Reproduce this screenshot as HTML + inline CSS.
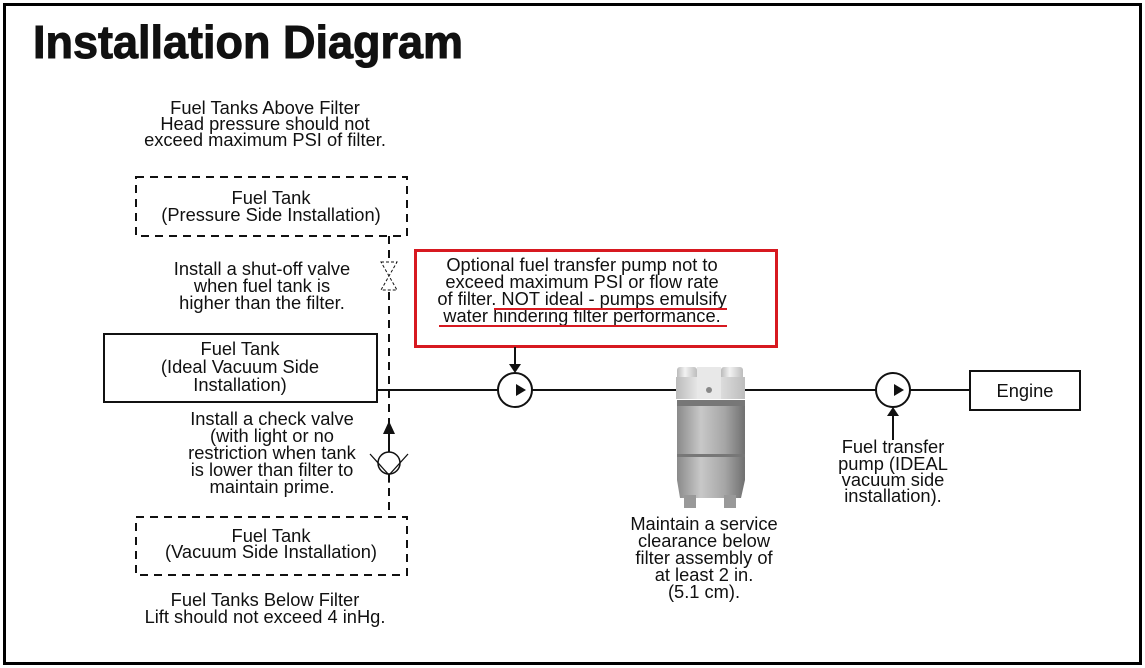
<!DOCTYPE html>
<html><head><meta charset="utf-8"><style>
html,body{margin:0;padding:0;background:#fff;}
svg{display:block;}
text{font-family:"Liberation Sans",Arial,sans-serif;font-size:18.3px;fill:#111;}
.m{text-anchor:middle;}
</style></head><body>
<svg width="1145" height="668" viewBox="0 0 1145 668" xmlns="http://www.w3.org/2000/svg">
<defs>
<linearGradient id="g" x1="0" x2="1">
<stop offset="0" stop-color="#8a8a8a"/><stop offset="0.35" stop-color="#c8c8c8"/><stop offset="0.7" stop-color="#a6a6a6"/><stop offset="1" stop-color="#707070"/>
</linearGradient>
<linearGradient id="g2" x1="0" x2="1">
<stop offset="0" stop-color="#bbb"/><stop offset="0.4" stop-color="#f2f2f2"/><stop offset="1" stop-color="#bdbdbd"/>
</linearGradient>
</defs>
<rect x="4.5" y="4.5" width="1136" height="659" fill="none" stroke="#000" stroke-width="3"/>
<text x="33" y="58" style="font-size:46px;font-weight:bold;stroke:#111;stroke-width:1" textLength="430" lengthAdjust="spacingAndGlyphs">Installation Diagram</text>

<text class="m" x="265" y="114">Fuel Tanks Above Filter</text>
<text class="m" x="265" y="130">Head pressure should not</text>
<text class="m" x="265" y="146">exceed maximum PSI of  filter.</text>

<!-- top dashed tank -->
<rect x="136" y="177" width="271" height="59" fill="none" stroke="#111" stroke-width="2" stroke-dasharray="8,6"/>
<text class="m" x="271" y="204">Fuel Tank</text>
<text class="m" x="271" y="221">(Pressure Side Installation)</text>

<!-- dashed vertical -->
<line x1="389" y1="236" x2="389" y2="516" stroke="#111" stroke-width="2" stroke-dasharray="8,6"/>
<!-- shut-off valve -->
<path d="M381 262 L397 262 L381 290 L397 290 Z" fill="#fff" stroke="#111" stroke-width="1" stroke-dasharray="3,2"/>

<text class="m" x="262" y="275">Install a shut-off valve</text>
<text class="m" x="262" y="292">when fuel tank is</text>
<text class="m" x="262" y="309">higher than the filter.</text>

<!-- ideal tank -->
<rect x="104" y="334" width="273" height="68" fill="#fff" stroke="#111" stroke-width="2"/>
<text class="m" x="240" y="355">Fuel Tank</text>
<text class="m" x="240" y="373">(Ideal Vacuum Side</text>
<text class="m" x="240" y="391">Installation)</text>

<!-- main line -->
<line x1="377" y1="390" x2="970" y2="390" stroke="#111" stroke-width="2"/>

<!-- check valve -->
<line x1="389" y1="420" x2="389" y2="451" stroke="#111" stroke-width="2"/>
<path d="M383 434 L389 421 L395 434 Z" fill="#111"/>
<circle cx="389" cy="463" r="11" fill="#fff" stroke="#111" stroke-width="1.5"/>
<path d="M370 454 L389 475 L408 454 M389 475 L389 483" fill="none" stroke="#111" stroke-width="1.3"/>

<text class="m" x="272" y="425">Install a check valve</text>
<text class="m" x="272" y="442">(with light or no</text>
<text class="m" x="272" y="459">restriction when tank</text>
<text class="m" x="272" y="476">is lower than filter to</text>
<text class="m" x="272" y="493">maintain prime.</text>

<!-- bottom dashed tank -->
<rect x="136" y="517" width="271" height="58" fill="#fff" stroke="#111" stroke-width="2" stroke-dasharray="8,6"/>
<text class="m" x="271" y="542">Fuel Tank</text>
<text class="m" x="271" y="558">(Vacuum Side Installation)</text>

<text class="m" x="265" y="606">Fuel Tanks Below Filter</text>
<text class="m" x="265" y="623">Lift should not exceed 4 inHg.</text>

<!-- red box -->
<rect x="415.5" y="250.5" width="361" height="96" fill="#fff" stroke="#d71920" stroke-width="3"/>
<text class="m" x="582" y="271">Optional fuel transfer pump not to</text>
<text class="m" x="582" y="288">exceed maximum PSI or flow rate</text>
<text class="m" x="582" y="305">of filter. NOT ideal - pumps emulsify</text>
<text class="m" x="582" y="322">water hindering filter performance.</text>
<line x1="494" y1="309" x2="727" y2="309" stroke="#d71920" stroke-width="2"/>
<line x1="439" y1="326" x2="727" y2="326" stroke="#d71920" stroke-width="2"/>

<!-- pump 1 -->
<line x1="515" y1="347" x2="515" y2="366" stroke="#111" stroke-width="2"/>
<path d="M509 364 L515 373 L521 364 Z" fill="#111"/>
<circle cx="515" cy="390" r="17" fill="#fff" stroke="#111" stroke-width="2"/>
<path d="M516 384 L526 390 L516 396 Z" fill="#111"/>

<!-- filter -->
<rect x="677" y="367" width="20" height="17" rx="3" fill="url(#g2)"/>
<rect x="721" y="367" width="22" height="17" rx="3" fill="url(#g2)"/>
<rect x="676" y="377" width="69" height="22" fill="url(#g2)"/>
<rect x="697" y="367" width="24" height="32" fill="#e8e8e8"/>
<circle cx="709" cy="390" r="3" fill="#888"/>
<path d="M677 400 L745 400 L745 480 L741 498 L680 498 L677 480 Z" fill="url(#g)"/>
<rect x="677" y="400" width="68" height="6" fill="#777"/>
<rect x="677" y="454" width="68" height="3" fill="#777"/>
<rect x="684" y="495" width="12" height="13" fill="#999"/>
<rect x="724" y="495" width="12" height="13" fill="#999"/>
<line x1="745" y1="390" x2="760" y2="390" stroke="#111" stroke-width="2"/>

<text class="m" x="704" y="530">Maintain a service</text>
<text class="m" x="704" y="547">clearance below</text>
<text class="m" x="704" y="564">filter assembly of</text>
<text class="m" x="704" y="581">at least 2 in.</text>
<text class="m" x="704" y="598">(5.1 cm).</text>

<!-- pump 2 -->
<circle cx="893" cy="390" r="17" fill="#fff" stroke="#111" stroke-width="2"/>
<path d="M894 384 L904 390 L894 396 Z" fill="#111"/>
<line x1="893" y1="440" x2="893" y2="414" stroke="#111" stroke-width="2"/>
<path d="M887 416 L893 407 L899 416 Z" fill="#111"/>
<text class="m" x="893" y="453">Fuel transfer</text>
<text class="m" x="893" y="470">pump (IDEAL</text>
<text class="m" x="893" y="486">vacuum side</text>
<text class="m" x="893" y="502">installation).</text>

<!-- engine -->
<rect x="970" y="371" width="110" height="39" fill="#fff" stroke="#111" stroke-width="2"/>
<text class="m" x="1025" y="397">Engine</text>
</svg>
</body></html>
